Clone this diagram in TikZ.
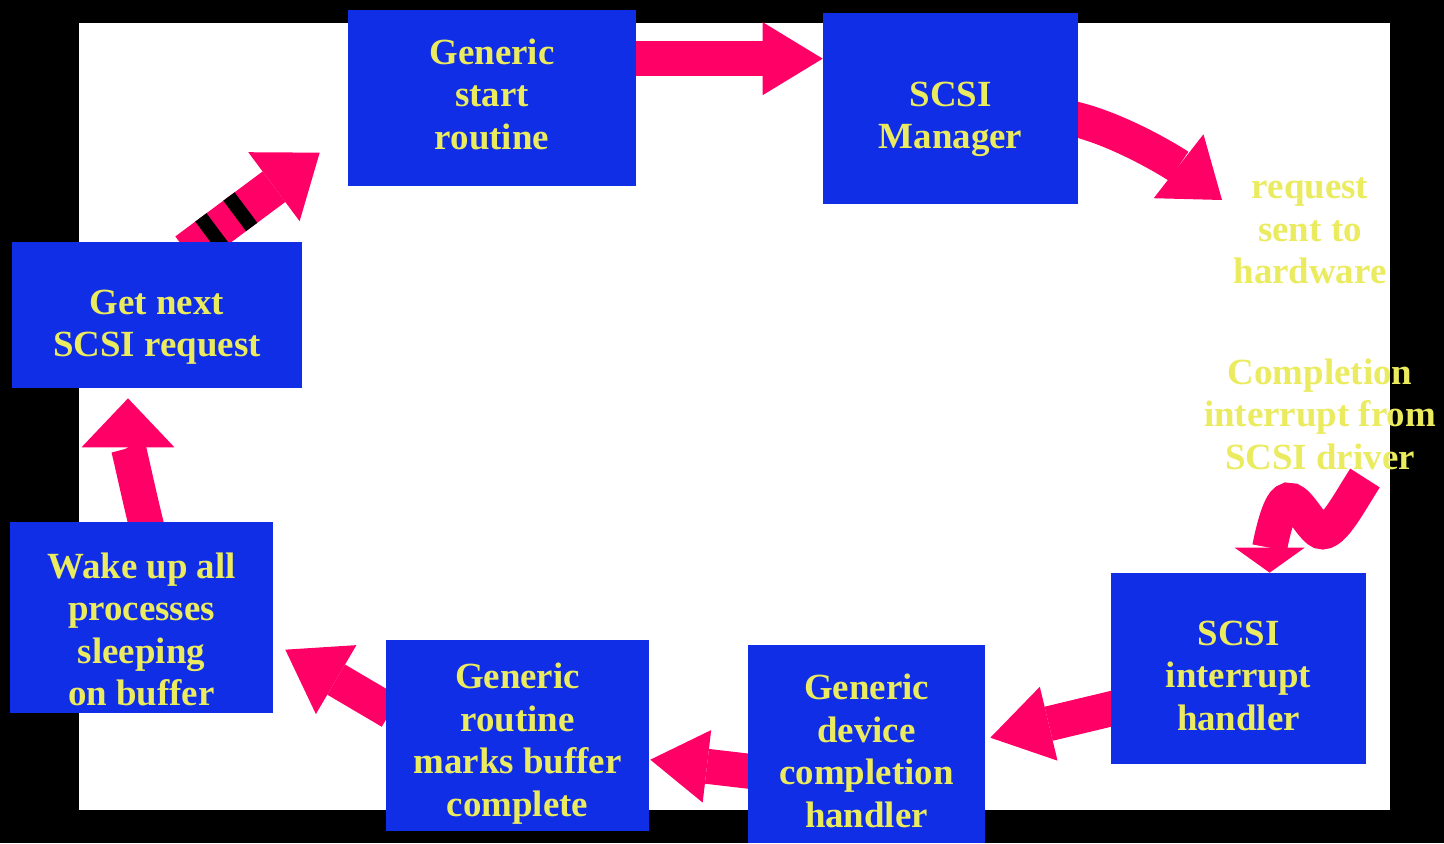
\documentclass[tikz,border=0pt]{standalone}
\usepackage{fontspec}
\setmainfont{Liberation Serif}
\usetikzlibrary{arrows.meta,calc,positioning}
\definecolor{boxblue}{RGB}{16,46,230}
\definecolor{arrpink}{RGB}{255,0,102}
\definecolor{txtyel}{RGB}{235,235,95}
\pgfdeclarelayer{bg}
\pgfdeclarelayer{arw}
\pgfsetlayers{bg,arw,main}
\tikzset{
  txt/.style={text=txtyel, align=center, inner sep=0pt, font=\fontsize{21}{24.2}\selectfont\bfseries},
  blk/.style 2 args={fill=boxblue, inner sep=0pt, minimum width=#1, minimum height=#2},
  pk/.style 2 args={draw=arrpink, line width=0.7cm, line cap=butt,
    -{Triangle[length=#1, width=#2, line width=0pt]}}
}
\begin{document}
\begin{tikzpicture}[x=0.02cm, y=-0.02cm]
  \begin{pgfonlayer}{bg}
    \fill[black] (0,0) rectangle (1444,843);
    \fill[white] (79,23) rectangle (1390,810);
  \end{pgfonlayer}
  \node[blk={5.76cm}{3.52cm}, label={[txt, yshift=0.08cm]center:Generic\\start\\routine}] (gsr) at (492,98) {};
  \node[blk={5.1cm}{3.82cm}, label={[txt, yshift=-0.22cm]center:SCSI\\Manager}] (mgr) at (950.5,108.5) {};
  \node[txt] (req) at (1310,231) {request\\sent to\\hardware};
  \node[txt] (cmp) at (1320,414) {Completion\\interrupt from\\SCSI driver};
  \node[blk={5.1cm}{3.82cm}, label={[txt, yshift=-0.14cm]center:SCSI\\interrupt\\handler}] (int) at (1238.5,668.5) {};
  \node[blk={4.74cm}{3.96cm}, label={[txt, yshift=-0.14cm]center:Generic\\device\\completion\\handler}] (dev) at (866.5,744) {};
  \node[blk={5.26cm}{3.82cm}, label={[txt, yshift=-0.16cm]center:Generic\\routine\\marks buffer\\complete}] (mark) at (517.5,735.5) {};
  \node[blk={5.26cm}{3.82cm}, label={[txt, yshift=-0.24cm]center:Wake up all\\processes\\sleeping\\on buffer}] (wake) at (141.5,617.5) {};
  \node[blk={5.8cm}{2.92cm}, label={[txt, yshift=-0.24cm]center:Get next\\SCSI request}] (nxt) at (157,315) {};
  \begin{pgfonlayer}{arw}
    \coordinate (a1) at ($(gsr.north east)+(-5,49)$);
    \draw[pk={1.2cm}{1.46cm}] (a1) -- (a1 -| mgr.west);
    \draw[pk={1.1cm}{1.62cm}] ($(mgr.north east)+(-5,106)$) .. controls +(50,12) and +(-45,-35) .. ($(req)+(-88,-31)$);
    \draw[pk={0.5cm}{1.4cm}] ($(cmp)+(45,64)$) .. controls +(-18,28) and +(12,10) .. (1318,530)
      .. controls +(-12,-10) and +(10,-12) .. (1284,503) .. controls +(-8,10) and +(0,-25) .. ($(int.north west)+(159,0)$);
    \draw[pk={1.2cm}{1.52cm}] ($(int.north west)+(5,135)$) -- ($(dev.north east)+(5,93)$);
    \draw[pk={1.14cm}{1.46cm}] ($(dev.north west)+(5,127)$) -- ($(mark.north east)+(1,120)$);
    \draw[pk={1.18cm}{1.6cm}] ($(mark.north west)+(5,72)$) -- ($(wake.north east)+(12,128)$);
    \draw[pk={0.98cm}{1.86cm}] ($(wake.north)+(6,8)$) .. controls +(-10,-40) and +(0,45) .. ($(nxt.south)+(-29,10)$);
    \coordinate (s8) at ($(nxt.north west)+(175,10)$);
    \coordinate (e8) at ($(gsr.north west)+(-28,143)$);
    \draw[pk={1.14cm}{1.72cm}, line width=0.76cm] (s8) -- (e8);
    \draw[black, line width=0.76cm, dash pattern=on 0.28cm off 0.42cm] ($(s8)!0.15!(e8)$) -- ($(s8)!0.45!(e8)$);
  \end{pgfonlayer}
\end{tikzpicture}
\end{document}
